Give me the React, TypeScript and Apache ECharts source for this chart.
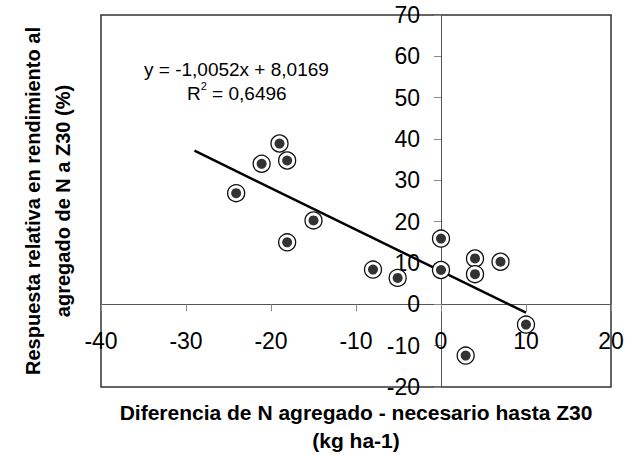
import React, { useEffect, useRef } from "react";
import * as echarts from "echarts";

const xValues = [-19.0, -18.1, -21.1, -24.1, -15.0, -18.1, -8.0, -5.1, 0.0, 0.0, 4.0, 4.0, 7.0, 10.0, 2.9];
const yValues = [38.9, 34.8, 34.0, 26.9, 20.3, 15.0, 8.4, 6.4, 15.9, 8.3, 11.1, 7.3, 10.3, -4.9, -12.4];
const slope = -1.0052;
const intercept = 8.0169;
const trendX = [-29, 10];
const xTitle = "Diferencia de N agregado - necesario hasta Z30\n(kg ha-1)";
const yTitle = "Respuesta relativa en rendimiento al\nagregado de N a Z30 (%)";

export default function App() {
  const ref = useRef<HTMLDivElement>(null);
  useEffect(() => {
    if (!ref.current) return;
    const chart = echarts.init(ref.current, null, { renderer: "svg" });
    const pts = xValues.map((x, i) => [x, yValues[i]]);
    const trend = trendX.map((x) => [x, slope * x + intercept]);
    const font = "Arial, 'Liberation Sans', sans-serif";
    chart.setOption({
      animation: false,
      backgroundColor: "#fff",
      textStyle: { fontFamily: font },
      grid: {
        left: 101,
        top: 15,
        right: 15,
        bottom: 68,
        containLabel: false,
        outerBoundsMode: "none",
        show: true,
        borderColor: "#333",
        borderWidth: 1.5,
      },
      xAxis: {
        type: "value",
        min: -40,
        max: 20,
        interval: 10,
        offset: -82.7,
        axisLine: { onZero: false, lineStyle: { color: "#555", width: 1 } },
        axisTick: { show: true, length: 7, lineStyle: { color: "#888" } },
        axisLabel: { color: "#000", fontSize: 23, margin: 25, fontFamily: font },
        splitLine: { show: false },
        name: xTitle,
        nameLocation: "middle",
        nameGap: 94,
        nameTextStyle: { fontSize: 21, fontWeight: "bold", color: "#000", lineHeight: 28, fontFamily: font },
      },
      yAxis: {
        type: "value",
        min: -20,
        max: 70,
        interval: 10,
        offset: -340,
        axisLine: { onZero: false, lineStyle: { color: "#555", width: 1 } },
        axisTick: { show: true, length: 7, lineStyle: { color: "#888" } },
        axisLabel: { color: "#000", fontSize: 23, margin: 21, fontFamily: font },
        splitLine: { show: false },
        name: yTitle,
        nameLocation: "middle",
        nameGap: 363,
        nameRotate: 90,
        nameTextStyle: { fontSize: 20, fontWeight: "bold", color: "#000", lineHeight: 30, fontFamily: font },
      },
      graphic: [
        {
          type: "text",
          left: 144,
          top: 60,
          style: {
            text: "y = -1,0052x + 8,0169",
            font: `19px ${font}`,
            fill: "#000",
          },
        },
        {
          type: "text",
          left: 187,
          top: 80,
          style: {
            text: "{b|R}{s|2}{b| = 0,6496}",
            fill: "#000",
            rich: {
              b: { fontSize: 19, fontFamily: font, verticalAlign: "bottom", lineHeight: 23 },
              s: { fontSize: 11, fontFamily: font, verticalAlign: "top", lineHeight: 23 },
            },
          },
        },
      ],
      series: [
        {
          type: "line",
          data: trend,
          symbol: "none",
          lineStyle: { color: "#000", width: 2.5 },
          z: 3,
        },
        {
          type: "scatter",
          data: pts,
          symbol: "circle",
          symbolSize: 17,
          itemStyle: { color: "#fff", borderColor: "#111", borderWidth: 1.3, opacity: 1 },
          z: 4,
        },
        {
          type: "scatter",
          data: pts,
          symbol: "circle",
          symbolSize: 10,
          itemStyle: { color: "#333", opacity: 1 },
          z: 5,
        },
      ],
    });
    return () => chart.dispose();
  }, []);
  return (
    <div
      ref={ref}
      style={{ position: "absolute", left: 0, top: 0, width: 626, height: 455 }}
    />
  );
}
